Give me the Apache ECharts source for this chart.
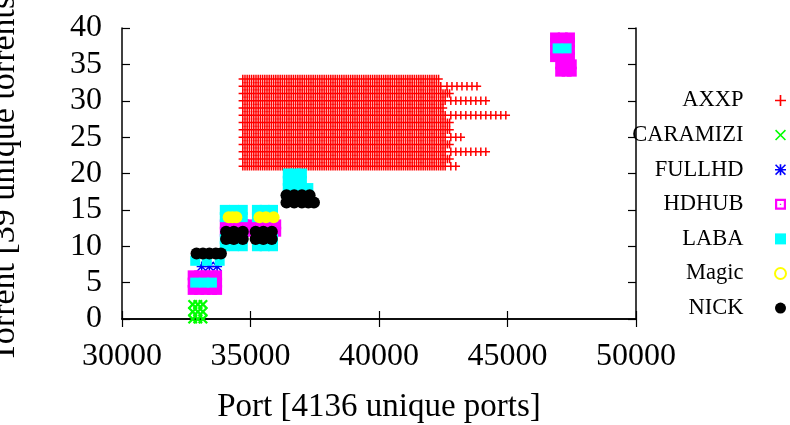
<!DOCTYPE html>
<html>
<head>
<meta charset="utf-8">
<script src="https://cdn.jsdelivr.net/npm/echarts@6/dist/echarts.min.js"></script>
<style>
  html, body { margin: 0; padding: 0; background: #fff; }
  #chart { width: 790px; height: 425px; }
</style>
</head>
<body>
<div id="chart"></div>
<script>
  // AXXP: one row per torrent, ports read as runs (dense part + sparse tail)
  const axxpRows = [33, 32, 31, 30, 29, 28, 27, 26, 25, 24, 23, 22, 21];
  const axxpFirstPort = [34700, 34700, 34700, 34700, 34700, 34700, 34700, 34700, 34700, 34700, 34700, 34700, 34700];
  const axxpDenseEnd = [42400, 42450, 42750, 42600, 42500, 42600, 42750, 42750, 42600, 42750, 42600, 42750, 42600];
  const axxpLastPort = [42400, 43850, 42750, 44200, 42500, 44950, 42750, 42750, 43350, 42750, 44200, 42750, 43150];

  // [port, torrent]
  const caramizi = [
    [32750, 0], [32950, 0], [33150, 0],
    [32750, 1], [32950, 1], [33150, 1],
    [32750, 2], [32950, 2], [33150, 2]
  ];
  const fullhd = [[33100, 7.2], [33400, 7.2], [33700, 7.2]];
  const hdhub = [
    [32750, 4], [33000, 4], [33250, 4], [33500, 4], [33700, 4],
    [32750, 5], [33000, 5], [33250, 5], [33500, 5], [33700, 5],
    [32750, 6], [33000, 6], [33250, 6], [33500, 6], [33700, 6],
    [34000, 12], [34250, 12], [34500, 12], [34750, 12], [35000, 12], [35250, 12], [35500, 12], [35750, 12], [36000, 12],
    [34000, 13], [34250, 13], [34500, 13], [34750, 13], [35000, 13], [35250, 13], [35500, 13], [35750, 13], [36000, 13],
    [47050, 34], [47300, 34], [47500, 34],
    [47050, 35], [47300, 35], [47500, 35],
    [46850, 36], [47150, 36], [47430, 36],
    [46850, 37], [47150, 37], [47430, 37],
    [46850, 38], [47150, 38], [47430, 38],
    [46850, 38.7], [47150, 38.7], [47430, 38.7]
  ];
  const laba = [
    [32850, 5], [33200, 5], [33500, 5],
    [32850, 8], [33300, 8], [33800, 8],
    [34000, 10], [34350, 10], [34700, 10], [35250, 10], [35550, 10], [35875, 10],
    [34000, 11], [34350, 11], [34700, 11], [35250, 11], [35550, 11], [35875, 11],
    [34000, 14], [34350, 14], [34700, 14], [35250, 14], [35550, 14], [35875, 14],
    [34000, 15], [34350, 15], [34700, 15], [35250, 15], [35550, 15], [35875, 15],
    [36450, 18], [36750, 18], [37000, 18], [37250, 18],
    [36450, 19], [36750, 19], [37000, 19],
    [36450, 20], [36750, 20], [37000, 20],
    [46950, 37.2], [47300, 37.2]
  ];
  const magic = [[34150, 14], [34300, 14], [34450, 14], [35350, 14], [35600, 14], [35900, 14]];
  const nick = [
    [32900, 9], [33150, 9], [33400, 9], [33650, 9], [33850, 9],
    [34050, 11], [34350, 11], [34700, 11], [35200, 11], [35500, 11], [35830, 11],
    [34050, 12], [34350, 12], [34700, 12], [35200, 12], [35500, 12], [35830, 12],
    [36400, 16], [36700, 16], [37000, 16], [37250, 16], [37470, 16],
    [36400, 17], [36700, 17], [37000, 17], [37300, 17]
  ];

  const xTicks = { min: 30000, max: 50000, step: 5000 };
  const yTicks = { min: 0, max: 40, step: 5 };

  const serif = 'Liberation Serif';
  const plusPath = 'path://M3.4,0H4.6V3.4H8V4.6H4.6V8H3.4V4.6H0V3.4H3.4Z';
  const crossPath = 'path://M0,0.8L0.8,0L8,7.2L7.2,8Z M7.2,0L8,0.8L0.8,8L0,7.2Z';
  const boldCrossPath = 'path://M0,1.3L1.3,0L8,6.7L6.7,8Z M6.7,0L8,1.3L1.3,8L0,6.7Z';
  const starPath = 'path://M3.4,0H4.6V3.4H8V4.6H4.6V8H3.4V4.6H0V3.4H3.4Z M0,0.8L0.8,0L8,7.2L7.2,8Z M7.2,0L8,0.8L0.8,8L0,7.2Z';
  const hollowSquarePath = 'path://M0,0H10V10H0Z M2,2V8H8V2Z M4.4,4.4H5.6V5.6H4.4Z';
  const squarePath = 'path://M0,0H10V10H0Z';

  const axxpData = axxpRows.map((row, i) => [axxpFirstPort[i], axxpDenseEnd[i], axxpLastPort[i], row]);

  function renderAxxp(params, api) {
    const row = api.value(3);
    const a = api.coord([api.value(0), row]);
    const b = api.coord([api.value(1), row]);
    const c = api.coord([api.value(2), row]);
    const h = 4.2;
    const y = a[1];
    let d = '';
    const addPlus = (x) => {
      d += 'M' + (x - h) + ',' + y + 'L' + (x + h) + ',' + y;
      d += 'M' + x + ',' + (y - h) + 'L' + x + ',' + (y + h);
    };
    for (let x = a[0]; x <= b[0]; x += 2.2) addPlus(x);
    for (let x = b[0] + 5; x <= c[0]; x += 5) addPlus(x);
    return {
      type: 'path',
      shape: { pathData: d },
      style: { stroke: '#ff0000', lineWidth: 1.5, fill: null }
    };
  }

  const axisCommon = {
    type: 'value',
    axisLine: { show: true, lineStyle: { color: '#000', width: 1.5 } },
    axisTick: { show: true, inside: true, length: 8, lineStyle: { color: '#000', width: 1.2 } },
    splitLine: { show: false }
  };
  const plainNumber = (v) => String(v);

  const chart = echarts.init(document.getElementById('chart'));
  chart.setOption({
    animation: false,
    backgroundColor: '#fff',
    textStyle: { fontFamily: serif },
    grid: { left: 122, right: 154, top: 28, bottom: 106, outerBoundsMode: 'none', containLabel: false },
    legend: {
      orient: 'vertical',
      right: -2,
      top: 84,
      align: 'right',
      itemWidth: 64,
      itemHeight: 11,
      itemGap: 11.6,
      selectedMode: false,
      textStyle: { fontFamily: serif, fontSize: 22.5, color: '#000', lineHeight: 22 },
      data: [
        { name: 'AXXP', icon: plusPath },
        { name: 'CARAMIZI', icon: crossPath },
        { name: 'FULLHD', icon: starPath },
        { name: 'HDHUB', icon: hollowSquarePath },
        { name: 'LABA', icon: squarePath },
        { name: 'Magic', icon: 'emptyCircle' },
        { name: 'NICK', icon: 'circle' }
      ]
    },
    xAxis: [
      Object.assign({}, axisCommon, {
        min: xTicks.min, max: xTicks.max, interval: xTicks.step,
        name: 'Port [4136 unique ports]',
        nameLocation: 'middle',
        nameGap: 72,
        nameTextStyle: { fontFamily: serif, fontSize: 33, color: '#000' },
        axisLabel: { fontFamily: serif, fontSize: 32, color: '#000', margin: 22, formatter: plainNumber }
      }),
      Object.assign({}, axisCommon, {
        position: 'top',
        min: xTicks.min, max: xTicks.max, interval: xTicks.step,
        axisLabel: { show: false }
      })
    ],
    yAxis: [
      Object.assign({}, axisCommon, {
        min: yTicks.min, max: yTicks.max, interval: yTicks.step,
        name: 'Torrent [39 unique torrents]',
        nameLocation: 'middle',
        nameGap: 100,
        nameTextStyle: { fontFamily: serif, fontSize: 34, color: '#000' },
        axisLabel: { fontFamily: serif, fontSize: 32, color: '#000', margin: 20, formatter: plainNumber }
      }),
      Object.assign({}, axisCommon, {
        position: 'right',
        min: yTicks.min, max: yTicks.max, interval: yTicks.step,
        axisLabel: { show: false }
      })
    ],
    series: [
      {
        name: 'AXXP',
        type: 'custom',
        clip: true,
        itemStyle: { color: '#ff0000' },
        renderItem: renderAxxp,
        data: axxpData
      },
      {
        name: 'CARAMIZI', type: 'scatter', clip: true,
        symbol: boldCrossPath, symbolSize: 10,
        itemStyle: { color: '#00ff00', opacity: 1 },
        data: caramizi
      },
      {
        name: 'FULLHD', type: 'scatter', clip: true,
        symbol: starPath, symbolSize: 10,
        itemStyle: { color: '#0000ff', opacity: 1 },
        data: fullhd
      },
      {
        name: 'HDHUB', type: 'scatter', clip: true,
        symbol: squarePath, symbolSize: 10,
        itemStyle: { color: '#ff00ff', opacity: 1 },
        data: hdhub
      },
      {
        name: 'LABA', type: 'scatter', clip: true,
        symbol: squarePath, symbolSize: 10,
        itemStyle: { color: '#00ffff', opacity: 1 },
        data: laba
      },
      {
        name: 'Magic', type: 'scatter', clip: true,
        symbol: 'circle', symbolSize: 12,
        itemStyle: { color: '#ffff00', opacity: 1 },
        data: magic
      },
      {
        name: 'NICK', type: 'scatter', clip: true,
        symbol: 'circle', symbolSize: 12,
        itemStyle: { color: '#000000', opacity: 1 },
        data: nick
      }
    ]
  });
</script>
</body>
</html>
